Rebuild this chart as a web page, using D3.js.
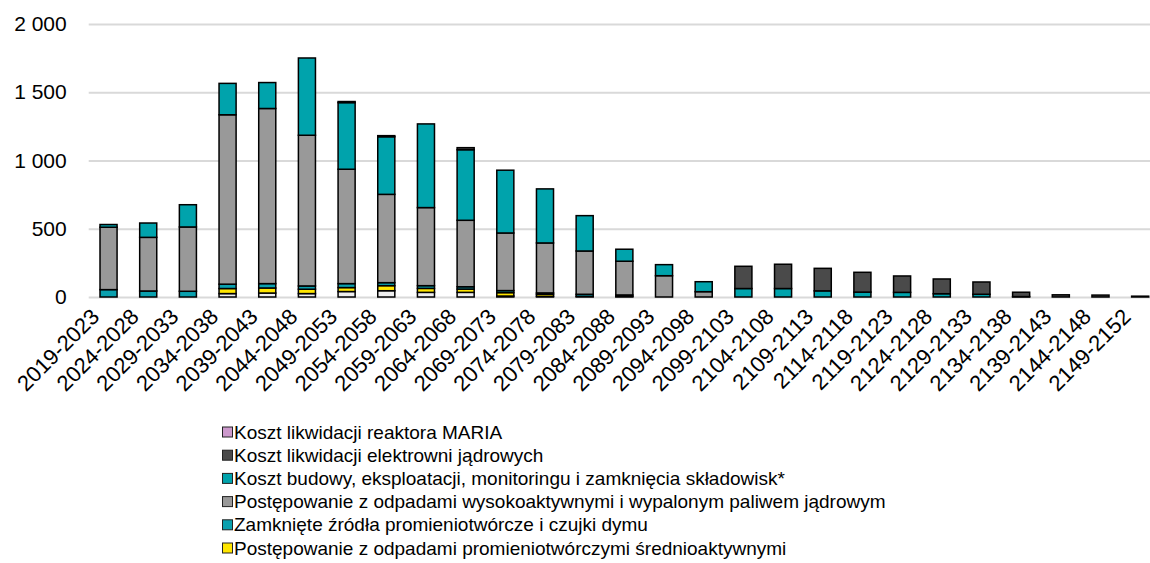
<!DOCTYPE html>
<html>
<head>
<meta charset="utf-8">
<script src="https://cdn.jsdelivr.net/npm/d3@7"></script>
<style>
  body { margin: 0; background: #fff; }
  text { font-family: "Liberation Sans", Arial, sans-serif; fill: #000; }
</style>
</head>
<body>
<div id="chart"></div>
<script>
const categories = ["2019-2023","2024-2028","2029-2033","2034-2038","2039-2043","2044-2048","2049-2053",
  "2054-2058","2059-2063","2064-2068","2069-2073","2074-2078","2079-2083","2084-2088","2089-2093",
  "2094-2098","2099-2103","2104-2108","2109-2113","2114-2118","2119-2123","2124-2128","2129-2133",
  "2134-2138","2139-2143","2144-2148","2149-2152"];

// stack order: bottom -> top
const pozostale     = [0,0,0,25,29,25,40,46,34,34,7,5,0,0,0,0,0,0,0,0,0,0,0,0,0,0,0];
const srednioakt    = [0,0,0,37,37,32,29,37,29,24,25,15,5,5,0,0,0,0,0,0,0,0,0,0,0,0,0];
const zamkniete     = [54,44,42,32,32,24,29,22,20,17,15,10,15,10,0,0,0,0,0,0,0,0,0,0,0,0,0];
const wysokoakt     = [457,393,471,1241,1283,1104,838,647,572,487,422,366,317,247,156,39,0,0,0,0,0,0,0,0,0,0,0];
const skladowiska   = [20,105,163,230,190,566,488,422,613,517,460,396,259,88,81,73,62,62,45,36,34,24,20,3,0,0,0];
const elektrownie   = [0,0,0,0,0,0,8,8,0,15,0,0,0,0,0,0,163,178,165,145,120,108,90,32,16,14,0];
const maria         = [0,0,0,0,0,0,0,0,0,0,0,0,0,0,0,0,0,0,0,0,0,0,0,0,0,0,6];

const yTicks = [0, 500, 1000, 1500, 2000];

const series = [
  {key: "pozostale", values: pozostale, color: "#eeeeee", label: null},
  {key: "srednioakt", values: srednioakt, color: "#ffe600", label: "Postępowanie z odpadami promieniotwórczymi średnioaktywnymi"},
  {key: "zamkniete", values: zamkniete, color: "#0aa0ae", label: "Zamknięte źródła promieniotwórcze i czujki dymu"},
  {key: "wysokoakt", values: wysokoakt, color: "#999999", label: "Postępowanie z odpadami wysokoaktywnymi i wypalonym paliwem jądrowym"},
  {key: "skladowiska", values: skladowiska, color: "#00a3ac", label: "Koszt budowy, eksploatacji, monitoringu i zamknięcia składowisk*"},
  {key: "elektrownie", values: elektrownie, color: "#4a4a4a", label: "Koszt likwidacji elektrowni jądrowych"},
  {key: "maria", values: maria, color: "#cc99cc", label: "Koszt likwidacji reaktora MARIA"}
];

const W = 1150, H = 563;
const plot = {left: 88.7, right: 1160, top: 24, bottom: 297};

const rows = categories.map((c, i) => {
  const r = {cat: c};
  series.forEach(s => r[s.key] = s.values[i]);
  return r;
});

const stacked = d3.stack().keys(series.map(s => s.key))(rows);

const x = d3.scaleBand()
  .domain(categories)
  .range([plot.left, plot.right])
  .paddingInner(0.57)
  .paddingOuter(0.285);

const y = d3.scaleLinear()
  .domain([0, 2000])
  .range([plot.bottom, plot.top]);

const svg = d3.select("#chart").append("svg")
  .attr("width", W)
  .attr("height", H);

const fmt = d3.formatLocale({decimal: ",", thousands: " ", grouping: [3], currency: ["", " zł"]}).format(",d");

// grid + y labels
const yAxis = svg.append("g")
  .attr("transform", "translate(" + plot.left + ",0)")
  .call(d3.axisLeft(y).tickValues(yTicks).tickSize(-(W - plot.left)).tickPadding(22).tickFormat(fmt));
yAxis.select(".domain").remove();
yAxis.selectAll(".tick line").attr("stroke", "#d9d9d9").attr("stroke-width", 2);
yAxis.selectAll(".tick text").style("font-size", "21px").attr("fill", "#000");

// bars
const layers = svg.append("g").selectAll("g")
  .data(stacked)
  .enter().append("g")
  .attr("fill", (d, i) => series[i].color);

layers.selectAll("rect")
  .data(d => d.filter(p => p[1] - p[0] > 0))
  .enter().append("rect")
  .attr("x", d => x(d.data.cat))
  .attr("width", x.bandwidth())
  .attr("y", d => y(d[1]))
  .attr("height", d => y(d[0]) - y(d[1]))
  .attr("stroke", "#000")
  .attr("stroke-width", 1.5);

// x labels
const xAxis = svg.append("g")
  .attr("transform", "translate(0," + plot.bottom + ")")
  .call(d3.axisBottom(x).tickSize(0).tickPadding(0));
xAxis.select(".domain").remove();
xAxis.selectAll(".tick text")
  .style("font-size", "22px")
  .attr("fill", "#000")
  .attr("text-anchor", "end")
  .attr("dy", null)
  .attr("y", 0)
  .attr("transform", "translate(-8,21) rotate(-45)");

// legend
const legendItems = series.filter(s => s.label).reverse();
const legend = svg.append("g").attr("transform", "translate(222,432)");
const li = legend.selectAll("g")
  .data(legendItems)
  .enter().append("g")
  .attr("transform", (d, i) => "translate(0," + (i * 23.2) + ")");
li.append("rect")
  .attr("x", 0.5).attr("y", -5)
  .attr("width", 10).attr("height", 10)
  .attr("fill", d => d.color)
  .attr("stroke", "#222").attr("stroke-width", 1);
li.append("text")
  .attr("x", 12)
  .attr("y", 0)
  .attr("dy", "0.35em")
  .style("font-size", "19px")
  .text(d => d.label);
</script>
</body>
</html>
